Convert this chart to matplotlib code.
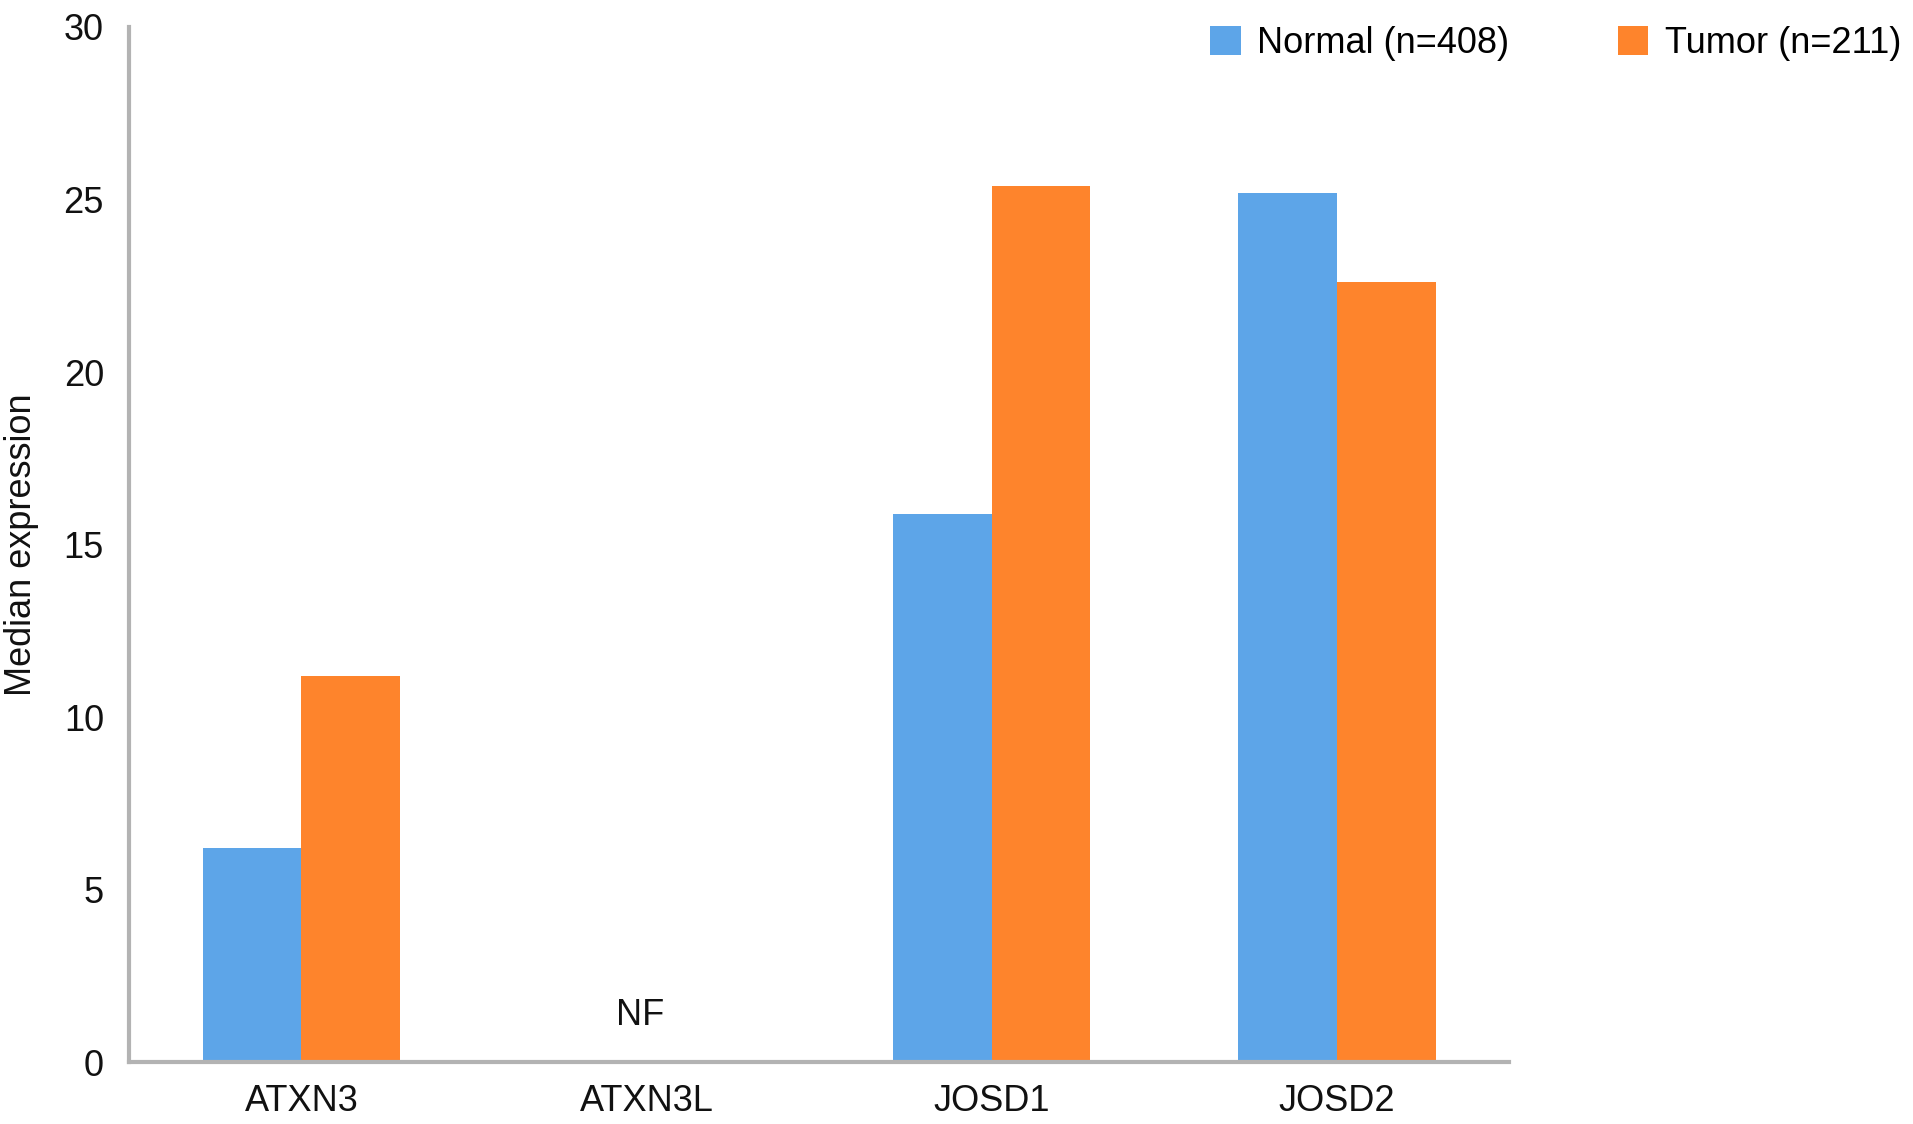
import matplotlib
matplotlib.use("Agg")
import matplotlib.pyplot as plt
import numpy as np

plt.rcParams['font.family'] = ['Liberation Sans', 'DejaVu Sans']

genes = ["ATXN3", "ATXN3L", "JOSD1", "JOSD2"]
normal = [6.2, 0, 15.9, 25.2]
tumor = [11.2, 0, 25.4, 22.6]
labels = ["Normal (n=408)", "Tumor (n=211)"]
blue = "#5DA5E8"
orange = "#FE842C"

fig = plt.figure(figsize=(19.13, 11.24), dpi=100)
ax = fig.add_axes([0.0674, 0.055, 0.7216, 0.921])

x = np.arange(len(genes))
w = 0.286
# ATXN3L was not found, so no bars for it
keep = [i for i in range(len(genes)) if genes[i] != "ATXN3L"]
ax.bar(x[keep] - w / 2, np.array(normal)[keep], w, color=blue, label=labels[0])
ax.bar(x[keep] + w / 2, np.array(tumor)[keep], w, color=orange, label=labels[1])
ax.text(0.98, 1.35, "NF", ha="center", va="center", fontsize=26, color="#111111")

ax.set_xlim(-0.5, 3.5)
ax.set_ylim(0, 30)
ax.set_yticks([0, 5, 10, 15, 20, 25, 30])
ax.set_xticks(x)
ax.set_xticklabels(genes)
ax.tick_params(axis="both", length=0, labelsize=26, colors="#111111")
ax.tick_params(axis="x", pad=16)
ax.tick_params(axis="y", pad=18)
ax.set_ylabel("Median expression", fontsize=26, color="#111111", labelpad=18)

for s in ["top", "right"]:
    ax.spines[s].set_visible(False)
for s in ["left", "bottom"]:
    ax.spines[s].set_color("#b3b3b3")
    ax.spines[s].set_linewidth(3)

fig.legend(loc="upper right", bbox_to_anchor=(1.005, 0.996), borderaxespad=0.2, ncol=2,
           frameon=False, fontsize=26, handlelength=0.85, handleheight=0.85,
           handletextpad=0.45, columnspacing=3.0)

fig.savefig("out.png", dpi=100)
